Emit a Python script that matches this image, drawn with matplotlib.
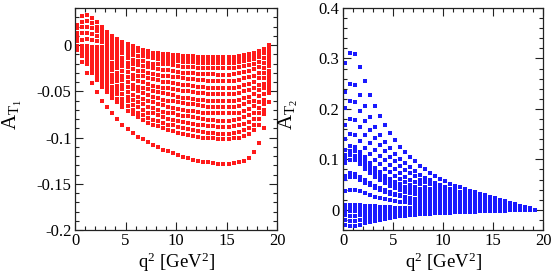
import matplotlib
matplotlib.use("Agg")
import matplotlib.pyplot as plt
from matplotlib.ticker import MultipleLocator, FuncFormatter

# ---------------- data (values in units of 1e-3) ----------------
q2 = [0.2, 0.7, 1.2, 1.7, 2.2, 2.7, 3.2, 3.7, 4.2, 4.7, 5.2, 5.7, 6.2, 6.7, 7.2,
      7.7, 8.2, 8.7, 9.2, 9.7, 10.2, 10.7, 11.2, 11.7, 12.2, 12.7, 13.2, 13.7,
      14.2, 14.7, 15.2, 15.7, 16.2, 16.7, 17.2, 17.7, 18.2, 18.7, 19.2]

# A_T1 curves
at1_pos1 = [22,31,32,29,25,20,14,10,6,3,1,-1,-3,-5,-7,-10,-10,-11,-11,-12,-12,-13,-13,-13,-14,-14,-14,-14,-14,-14,-14,-14,-13,-12,-11,-10,-8,-5,-1]
at1_pos2 = [18,25,26,24,20,16,11,7,4,1,-1,-3,-4,-6,-9,-11,-11,-12,-12,-13,-13,-14,-14,-14,-15,-15,-15,-15,-15,-15,-15,-15,-14,-13,-12,-11,-9,-6,-2]
at1_pos3 = [13,19,20,18,15,12,8,5,2,0,-2,-4,-5,-7,-10,-12,-12,-13,-13,-14,-14,-15,-15,-15,-16,-16,-16,-16,-16,-16,-16,-16,-15,-14,-13,-12,-10,-7,-3]
at1_pos4 = [9,13,13,12,10,8,5,3,1,-1,-3,-4,-6,-9,-11,-13,-13,-14,-14,-15,-15,-16,-16,-16,-17,-17,-17,-17,-17,-17,-17,-17,-16,-15,-14,-13,-11,-8,-4]
at1_pos5 = [4,5,6,5,4,3,1,-1,-2,-3,-4,-5,-7,-10,-12,-14,-14,-15,-15,-16,-16,-17,-17,-17,-18,-18,-18,-18,-18,-18,-18,-18,-17,-16,-15,-14,-12,-9,-5]
at1_b00 = [-1,-1,-1,-2,-2,-2,-3,-3,-4,-5,-5,-6,-7,-7,-8,-9,-9,-10,-10,-11,-11,-12,-12,-12,-13,-13,-13,-13,-13,-13,-13,-13,-12,-11,-10,-9,-7,-4,0]
at1_b01 = [-1,-2,-2,-4,-5,-5,-6,-7,-8,-9,-10,-11,-12,-12,-13,-14,-15,-16,-16,-17,-17,-18,-18,-18,-19,-19,-19,-19,-19,-19,-19,-19,-18,-17,-16,-15,-13,-9,-4]
at1_b02 = [-1,-3,-4,-6,-7,-8,-10,-11,-12,-14,-14,-16,-17,-17,-19,-20,-20,-21,-21,-22,-23,-24,-24,-24,-25,-25,-25,-25,-25,-25,-25,-25,-24,-23,-22,-21,-18,-14,-7]
at1_b03 = [-1,-3,-5,-8,-10,-11,-13,-14,-16,-18,-19,-20,-22,-23,-24,-25,-26,-27,-27,-28,-29,-30,-30,-30,-31,-31,-31,-31,-32,-32,-32,-31,-30,-29,-28,-26,-24,-19,-11]
at1_b04 = [-2,-4,-7,-10,-12,-14,-17,-19,-21,-23,-24,-26,-28,-28,-30,-31,-32,-33,-34,-35,-35,-36,-37,-37,-38,-38,-39,-39,-39,-39,-39,-39,-38,-36,-35,-33,-30,-25,-15]
at1_b05 = [-2,-5,-8,-12,-15,-18,-21,-23,-25,-28,-29,-32,-33,-34,-36,-37,-38,-40,-40,-41,-42,-43,-43,-44,-45,-45,-46,-46,-46,-46,-46,-46,-45,-43,-42,-40,-36,-30,-19]
at1_b06 = [-2,-6,-10,-15,-18,-21,-25,-27,-30,-33,-35,-37,-39,-40,-42,-44,-45,-46,-47,-48,-49,-50,-50,-51,-52,-52,-53,-53,-53,-53,-53,-53,-52,-50,-49,-46,-43,-36,-23]
at1_b07 = [-2,-7,-12,-17,-21,-25,-28,-32,-35,-38,-40,-43,-45,-46,-48,-50,-51,-52,-53,-54,-56,-57,-57,-58,-59,-59,-60,-60,-60,-60,-60,-60,-59,-57,-56,-53,-49,-42,-28]
at1_b08 = [-2,-8,-13,-19,-24,-28,-32,-36,-39,-43,-45,-48,-50,-52,-54,-56,-57,-59,-60,-61,-62,-63,-64,-64,-65,-66,-67,-67,-67,-67,-67,-67,-66,-64,-62,-60,-55,-47,-32]
at1_b09 = [-2,-9,-15,-21,-27,-32,-36,-40,-44,-48,-51,-54,-56,-58,-60,-62,-64,-65,-67,-68,-69,-70,-71,-71,-72,-73,-74,-74,-74,-74,-74,-74,-73,-71,-69,-66,-62,-53,-36]
at1_b10 = [-3,-9,-16,-24,-30,-35,-40,-45,-49,-53,-56,-59,-62,-64,-67,-68,-70,-72,-73,-74,-76,-77,-77,-78,-79,-80,-81,-81,-82,-82,-82,-81,-80,-78,-76,-73,-68,-59,-40]
at1_b11 = [-3,-10,-18,-26,-33,-39,-44,-49,-53,-58,-61,-65,-67,-70,-73,-74,-76,-78,-80,-81,-82,-83,-84,-85,-86,-87,-88,-88,-89,-89,-89,-88,-87,-85,-83,-80,-74,-64,-44]
at1_b12 = [-3,-11,-20,-28,-35,-42,-48,-53,-58,-63,-66,-70,-73,-76,-79,-81,-82,-84,-86,-87,-89,-90,-91,-92,-93,-94,-95,-95,-96,-96,-96,-95,-94,-92,-90,-86,-80,-70,-48]
at1_b13 = [-3,-12,-21,-30,-38,-45,-51,-57,-62,-67,-71,-75,-78,-81,-84,-86,-88,-90,-92,-93,-95,-96,-97,-98,-99,-100,-101,-101,-102,-102,-102,-101,-100,-98,-96,-92,-86,-75,-52]
at1_low = [-5,-18,-30,-41,-51,-60,-67,-74,-80,-86,-91,-95,-99,-102,-105,-108,-110,-113,-115,-117,-119,-121,-122,-124,-125,-126,-127,-128,-129,-129,-129,-128,-127,-125,-122,-116,-106,-90,-62]

# A_T2 curves
at2_c01 = [290,310,308,283,255,228,205,185,168,152,138,125,114,104,96,87,80,73,67,62,57,52,48,45,41,38,35,32,29,26,23,20,17,14,11,8,5,3,0]
at2_c02 = [234,250,248,228,206,184,165,149,135,123,111,101,92,84,77,70,64,59,54,50,46,42,39,36,33,31,28,26,23,21,19,16,14,11,9,6,4,2,0]
at2_c03 = [201,215,214,196,177,158,142,128,117,105,96,87,79,72,67,60,56,51,46,43,40,36,33,31,28,26,24,22,20,18,16,14,12,10,8,6,3,2,0]
at2_c04 = [168,180,179,164,148,132,119,107,98,88,80,73,66,60,56,51,46,42,39,36,33,30,28,26,24,22,20,19,17,15,13,12,10,8,6,5,3,2,0]
at2_c05 = [140,150,149,137,123,110,99,90,81,74,67,61,55,50,46,42,39,35,32,30,28,25,23,22,20,18,17,15,14,13,11,10,8,7,5,4,2,1,0]
at2_c06 = [118,126,125,115,104,93,83,75,68,62,56,51,46,42,39,35,33,30,27,25,23,21,20,18,17,15,14,13,12,11,9,8,7,6,4,3,2,1,0]
at2_c07 = [109,117,116,107,96,86,77,70,63,57,52,47,43,39,36,33,30,28,25,23,21,20,18,17,15,14,13,12,11,10,9,8,6,5,4,3,2,1,0]
at2_c08 = [101,108,107,98,89,79,71,64,58,53,48,44,40,36,33,30,28,25,23,22,20,18,17,16,14,13,12,11,10,9,8,7,6,5,4,3,2,1,0]
at2_c09 = [93,99,98,90,81,73,65,59,54,48,44,40,36,33,31,28,26,23,21,20,18,17,15,14,13,12,11,10,9,8,7,6,5,4,4,3,2,1,0]
at2_c10 = [67,72,71,66,59,53,48,43,39,35,32,29,26,24,22,20,19,17,16,14,13,12,11,10,10,9,8,7,7,6,5,5,4,3,3,2,1,1,0]
at2_c11 = [62,66,66,60,54,49,44,39,36,32,29,27,24,22,20,19,17,16,14,13,12,11,10,10,9,8,7,7,6,6,5,4,4,3,2,2,1,1,0]
at2_c12 = [37,40,40,37,33,29,26,24,22,20,18,16,15,13,12,11,10,9,9,8,7,7,6,6,5,5,5,4,4,3,3,3,2,2,1,1,1,0,0]
at2_c13 = [9,10,10,9,8,7,7,6,5,5,4,4,4,3,3,3,3,2,2,2,2,2,2,1,1,1,1,1,1,1,1,1,1,0,0,0,0,0,0]
at2_c14 = [5,5,5,5,4,4,3,3,3,2,2,2,2,2,2,1,1,1,1,1,1,1,1,1,1,1,0,0,0,0,0,0,0,0,0,0,0,0,0]
at2_c15 = [-3,-3,-3,-3,-3,-2,-2,-2,-2,-2,-2,-1,-1,-1,-1,-1,-1,-1,-1,-1,-1,-1,-1,-1,0,0,0,0,0,0,0,0,0,0,0,0,0,0,0]
at2_c16 = [-11,-12,-12,-11,-10,-9,-8,-7,-7,-6,-5,-5,-4,-4,-4,-3,-3,-3,-3,-2,-2,-2,-2,-2,-2,-1,-1,-1,-1,-1,-1,-1,-1,-1,0,0,0,0,0]
at2_c17 = [-21,-22,-22,-20,-18,-16,-15,-13,-12,-11,-10,-9,-8,-7,-7,-6,-6,-5,-5,-4,-4,-4,-3,-3,-3,-3,-2,-2,-2,-2,-2,-1,-1,-1,-1,-1,0,0,0]
at2_c18 = [-31,-33,-33,-30,-27,-24,-22,-20,-18,-16,-15,-13,-12,-11,-10,-9,-8,-8,-7,-7,-6,-6,-5,-5,-4,-4,-4,-3,-3,-3,-2,-2,-2,-1,-1,-1,-1,0,0]

at1_curves = [at1_pos1, at1_pos2, at1_pos3, at1_pos4, at1_pos5,
              at1_b00, at1_b01, at1_b02, at1_b03, at1_b04, at1_b05, at1_b06,
              at1_b07, at1_b08, at1_b09, at1_b10, at1_b11, at1_b12, at1_b13,
              at1_low]
at2_curves = [at2_c01, at2_c02, at2_c03, at2_c04, at2_c05, at2_c06, at2_c07,
              at2_c08, at2_c09, at2_c10, at2_c11, at2_c12, at2_c13, at2_c14,
              at2_c15, at2_c16, at2_c17, at2_c18]

for i, c in enumerate(at1_curves + at2_curves):
    assert len(c) == len(q2), (i, len(c))

# ---------------- style ----------------
plt.rcParams['font.family'] = ['Liberation Serif', 'DejaVu Serif']
plt.rcParams['mathtext.fontset'] = 'custom'
plt.rcParams['mathtext.rm'] = 'Liberation Serif'
plt.rcParams['mathtext.it'] = 'Liberation Serif:italic'
plt.rcParams['axes.unicode_minus'] = False

W, H = 554, 280
fig = plt.figure(figsize=(W / 100, H / 100), dpi=100)

ax1 = fig.add_axes([75 / W, 1 - 230 / H, 202 / W, 222 / H])
ax2 = fig.add_axes([343 / W, 1 - 230 / H, 200 / W, 222 / H])

ms = 2.25
for c in at1_curves:
    ax1.plot(q2, [v / 1000 for v in c], ls='none', marker='s', ms=ms,
             mew=0, color='#ff1a1a')
for c in at2_curves:
    ax2.plot(q2, [v / 1000 for v in c], ls='none', marker='s', ms=ms,
             mew=0, color='#1a1aff')

fmt = FuncFormatter(lambda v, p: '%g' % round(v, 6))

for ax in (ax1, ax2):
    ax.set_xlim(0, 20)
    ax.xaxis.set_major_locator(MultipleLocator(5))
    ax.xaxis.set_minor_locator(MultipleLocator(1))
    ax.xaxis.set_major_formatter(fmt)
    ax.yaxis.set_major_formatter(fmt)
    ax.tick_params(which='both', direction='in', top=True, right=True,
                   labelsize=12, width=0.8, color='#222222')
    ax.tick_params(which='major', length=5.5, pad=2.5)
    ax.tick_params(which='minor', length=3)
    for s in ax.spines.values():
        s.set_linewidth(0.9)
        s.set_color('#222222')
    ax.set_xlabel(r'$\mathrm{q}^{2}$ [GeV$^{2}$]', fontsize=13.5)
    ax.xaxis.set_label_coords(0.5, -0.095)

ax1.set_ylim(-0.2, 0.04)
ax1.yaxis.set_major_locator(MultipleLocator(0.05))
ax1.yaxis.set_minor_locator(MultipleLocator(0.01))
ax1.set_ylabel(r'$\mathrm{A}_{\mathrm{T}_{1}}$', fontsize=15)
ax1.yaxis.set_label_coords(-0.25, 0.52)

ax2.set_ylim(-0.04, 0.4)
ax2.yaxis.set_major_locator(MultipleLocator(0.1))
ax2.yaxis.set_minor_locator(MultipleLocator(0.02))
ax2.set_ylabel(r'$\mathrm{A}_{\mathrm{T}_{2}}$', fontsize=15)
ax2.yaxis.set_label_coords(-0.215, 0.52)

fig.savefig('out.png', dpi=100)
